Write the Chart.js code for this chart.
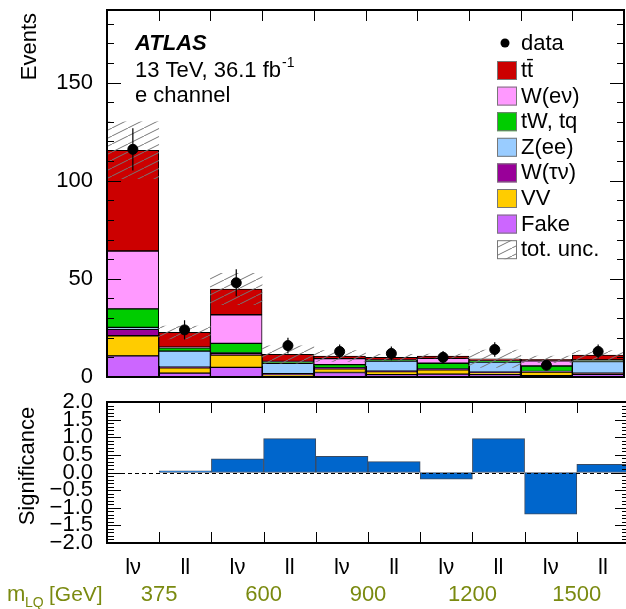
<!DOCTYPE html>
<html>
<head>
<meta charset="utf-8">
<script src="https://cdn.jsdelivr.net/npm/chart.js@4"></script>
<style>
body { margin: 0; background: #fff; overflow: hidden; }
#wrap { position: relative; width: 626px; height: 609px; overflow: hidden; }
#topChart { position: absolute; left: 0; top: 0; }
#botChart { position: absolute; left: 0; top: 390px; }
</style>
</head>
<body>
<div id="wrap">
  <canvas id="topChart" width="630" height="390"></canvas>
  <canvas id="botChart" width="630" height="219"></canvas>
</div>
<script>
// bins: lepton channel per LQ mass point
const bins = ['lν', 'll', 'lν', 'll', 'lν', 'll', 'lν', 'll', 'lν', 'll'];
const masses = ['375', '600', '900', '1200', '1500'];

// stacked backgrounds, bottom to top
const fake   = [10.8, 2.0, 4.9, 0.5, 2.3, 1.2, 1.5, 1.2, 0.7, 1.4];
const vv     = [10.2, 2.7, 6.3, 0.6, 1.8, 1.5, 2.1, 1.0, 1.8, 0.3];
const wtau   = [3.3, 0.3, 0.8, 0.6, 0.4, 0.3, 0.3, 0.3, 0.2, 0.2];
const zee    = [1.0, 8.2, 0.3, 5.3, 0.2, 5.1, 0.2, 5.1, 0.1, 6.0];
const single = [9.4, 1.7, 4.8, 0.8, 1.6, 0.4, 2.9, 0.4, 2.8, 0.5];
const wenu   = [29.5, 0.3, 14.6, 0.2, 3.1, 0.2, 2.5, 0.2, 2.7, 0.3];
const ttbar  = [51.3, 7.5, 13.1, 3.5, 1.3, 1.3, 1.2, 1.1, 0.7, 2.5];

const dataCounts = [116, 24, 48, 16, 13, 12, 10, 14, 6, 13];
const dataErr    = [10.8, 4.9, 6.9, 4.0, 3.6, 3.5, 3.2, 3.7, 2.4, 3.6];
const totUnc     = [14.5, 3.3, 8.0, 4.4, 2.7, 1.5, 1.0, 4.4, 1.7, 2.2];

const significance = [0.0, 0.05, 0.39, 0.96, 0.46, 0.31, -0.19, 0.96, -1.18, 0.23];

const FONT = 'Liberation Sans, Arial, sans-serif';

function hatchPattern(ctx) {
    const c = document.createElement('canvas');
    c.width = 16; c.height = 8;
    const g = c.getContext('2d');
    g.strokeStyle = '#777';
    g.lineWidth = 1;
    g.beginPath();
    g.moveTo(-1, 8.5); g.lineTo(17, -0.5);
    g.stroke();
    return ctx.createPattern(c, 'repeat');
}

// keep chart area fixed: no room reserved for overhanging tick labels
function noPad(s) {
    s.paddingTop = 0; s.paddingBottom = 0;
    s.paddingLeft = 0; s.paddingRight = 0;
}

const topCtx = document.getElementById('topChart').getContext('2d');
const hatch = hatchPattern(topCtx);

const totals = bins.map((b, i) => fake[i] + vv[i] + wtau[i] + zee[i] + single[i] + wenu[i] + ttbar[i]);
const uncBand = totals.map((t, i) => [t - totUnc[i], t + totUnc[i]]);

const stack = [
    { label: 'Fake', data: fake, color: '#cc66ff' },
    { label: 'VV', data: vv, color: '#ffcc00' },
    { label: 'W(τν)', data: wtau, color: '#990099' },
    { label: 'Z(ee)', data: zee, color: '#99ccff' },
    { label: 'tW, tq', data: single, color: '#00cc00' },
    { label: 'W(eν)', data: wenu, color: '#ff99ff' },
    { label: 'tt\u0304', data: ttbar, color: '#cc0000' }
];

// frame with inward ticks, like ROOT
const framePlugin = {
    id: 'frame',
    afterDraw(chart, args, opts) {
        const ctx = chart.ctx;
        const a = chart.chartArea;
        const xs = chart.scales.x, ys = chart.scales.y;
        ctx.save();
        ctx.strokeStyle = '#000';
        ctx.lineWidth = 1;
        ctx.beginPath();
        for (let i = 0; i < bins.length - 1; i++) {
            const x = Math.round((xs.getPixelForValue(i) + xs.getPixelForValue(i + 1)) / 2) + 0.5;
            ctx.moveTo(x, a.top); ctx.lineTo(x, a.top + 11);
            ctx.moveTo(x, a.bottom); ctx.lineTo(x, a.bottom - 11);
        }
        const n = Math.round((opts.max - opts.min) / opts.minor);
        for (let k = 0; k <= n; k++) {
            const v = opts.min + k * opts.minor;
            const y = Math.round(ys.getPixelForValue(v)) + 0.5;
            const major = Math.abs(v / opts.major - Math.round(v / opts.major)) < 1e-6;
            const len = major ? 14 : 7;
            ctx.moveTo(a.left, y); ctx.lineTo(a.left + len, y);
            ctx.moveTo(a.right, y); ctx.lineTo(a.right - len, y);
        }
        ctx.stroke();
        ctx.lineWidth = 2;
        ctx.strokeRect(a.left, a.top, a.right - a.left, a.bottom - a.top);
        ctx.restore();
    }
};

const errPlugin = {
    id: 'errbars',
    afterDatasetsDraw(chart) {
        const meta = chart.getDatasetMeta(chart.data.datasets.length - 1);
        const ys = chart.scales.yu;
        const ctx = chart.ctx;
        ctx.save();
        ctx.strokeStyle = '#000';
        ctx.lineWidth = 1.2;
        ctx.beginPath();
        meta.data.forEach((pt, i) => {
            ctx.moveTo(pt.x, ys.getPixelForValue(dataCounts[i] - dataErr[i]));
            ctx.lineTo(pt.x, ys.getPixelForValue(dataCounts[i] + dataErr[i]));
        });
        ctx.stroke();
        ctx.restore();
    }
};

const textPlugin = {
    id: 'toptext',
    afterDraw(chart) {
        const ctx = chart.ctx;
        ctx.save();
        ctx.fillStyle = '#000';
        ctx.textBaseline = 'alphabetic';
        ctx.font = 'bold italic 22px ' + FONT;
        ctx.fillText('ATLAS', 135, 50);
        ctx.font = '22px ' + FONT;
        ctx.fillText('13 TeV, 36.1 fb', 135, 77);
        const w = ctx.measureText('13 TeV, 36.1 fb').width;
        ctx.font = '14px ' + FONT;
        ctx.fillText('-1', 135 + w + 1, 67);
        ctx.font = '22px ' + FONT;
        ctx.fillText('e channel', 135, 102);

        // axis title
        ctx.save();
        ctx.translate(36, 13);
        ctx.rotate(-Math.PI / 2);
        ctx.textAlign = 'right';
        ctx.fillText('Events', 0, 0);
        ctx.restore();

        // legend
        const lx = 497, tx = 521;
        ctx.beginPath();
        ctx.arc(505, 43, 4.5, 0, Math.PI * 2);
        ctx.fill();
        ctx.fillText('data', tx, 50);
        const entries = stack.slice().reverse();
        entries.forEach((e, i) => {
            const base = 77 + i * 25.6;
            ctx.fillStyle = e.color;
            ctx.fillRect(lx, base - 16, 20, 19);
            ctx.strokeStyle = '#777';
            ctx.lineWidth = 1;
            ctx.strokeRect(lx + 0.5, base - 15.5, 19, 18);
            ctx.fillStyle = '#000';
            ctx.fillText(e.label, tx, base);
        });
        const base = 77 + entries.length * 25.6;
        ctx.fillStyle = hatch;
        ctx.fillRect(lx, base - 16, 20, 19);
        ctx.strokeStyle = '#777';
        ctx.strokeRect(lx + 0.5, base - 15.5, 19, 18);
        ctx.fillStyle = '#000';
        ctx.fillText('tot. unc.', tx, base);
        ctx.restore();
    }
};

const datasets = stack.map(s => ({
    type: 'bar',
    label: s.label,
    data: s.data,
    backgroundColor: s.color,
    borderColor: '#000',
    borderWidth: 1,
    borderSkipped: false,
    yAxisID: 'y',
    order: 0
}));
datasets.push({
    type: 'bar',
    label: 'tot. unc.',
    data: uncBand,
    backgroundColor: hatch,
    borderWidth: 0,
    grouped: false,
    yAxisID: 'yu',
    order: -1
});
datasets.push({
    type: 'line',
    label: 'data',
    data: dataCounts,
    showLine: false,
    pointRadius: 5,
    pointBackgroundColor: '#000',
    pointBorderColor: '#000',
    yAxisID: 'yu',
    order: -2
});

new Chart(topCtx, {
    data: { labels: bins, datasets: datasets },
    options: {
        responsive: false,
        animation: false,
        events: [],
        layout: { padding: { top: 10, right: 1, bottom: 13, left: 0 } },
        datasets: { bar: { categoryPercentage: 1, barPercentage: 1 } },
        plugins: {
            legend: { display: false },
            tooltip: { enabled: false },
            frame: { min: 0, max: 180, major: 50, minor: 10 }
        },
        scales: {
            x: { type: 'category', stacked: true, display: false, offset: true },
            y: {
                stacked: true, min: 0, max: 187,
                grid: { display: false }, border: { display: false },
                afterFit: s => { s.width = 107; noPad(s); },
                ticks: { stepSize: 50, includeBounds: false, padding: 6, color: '#000', font: { size: 22, family: FONT } }
            },
            yu: { display: false, min: 0, max: 187 }
        }
    },
    plugins: [framePlugin, errPlugin, textPlugin]
});

const botText = {
    id: 'bottext',
    afterDraw(chart) {
        const ctx = chart.ctx;
        const xs = chart.scales.x, ys = chart.scales.y;
        const a = chart.chartArea;
        ctx.save();
        // zero line
        ctx.strokeStyle = '#000';
        ctx.lineWidth = 1;
        ctx.setLineDash([4, 3]);
        const y0 = Math.round(ys.getPixelForValue(0)) + 0.5;
        ctx.beginPath();
        ctx.moveTo(a.left, y0); ctx.lineTo(a.right, y0);
        ctx.stroke();
        ctx.setLineDash([]);

        ctx.fillStyle = '#000';
        ctx.font = '22px ' + FONT;
        ctx.save();
        ctx.translate(34, 76);
        ctx.rotate(-Math.PI / 2);
        ctx.textAlign = 'center';
        ctx.fillText('Significance', 0, 0);
        ctx.restore();

        ctx.fillStyle = '#7a8a10';
        ctx.textAlign = 'center';
        ctx.textBaseline = 'alphabetic';
        masses.forEach((m, k) => {
            const x = (xs.getPixelForValue(2 * k) + xs.getPixelForValue(2 * k + 1)) / 2;
            ctx.fillText(m, x, 211);
        });
        ctx.textAlign = 'left';
        ctx.fillText('m', 7, 211);
        ctx.font = '14px ' + FONT;
        ctx.fillText('LQ', 25, 217);
        ctx.font = '21px ' + FONT;
        ctx.fillText('[GeV]', 49, 211);
        ctx.restore();
    }
};

new Chart(document.getElementById('botChart').getContext('2d'), {
    type: 'bar',
    data: {
        labels: bins,
        datasets: [{
            label: 'Significance',
            data: significance,
            backgroundColor: '#0066cc',
            borderColor: '#3a4a60',
            borderWidth: 1,
            borderSkipped: false,
            categoryPercentage: 1,
            barPercentage: 1
        }]
    },
    options: {
        responsive: false,
        animation: false,
        events: [],
        layout: { padding: { top: 12, right: 1, bottom: 0, left: 0 } },
        plugins: {
            legend: { display: false },
            tooltip: { enabled: false },
            frame: { min: -2, max: 2, major: 0.5, minor: 0.1 }
        },
        scales: {
            x: {
                type: 'category', offset: true,
                grid: { display: false }, border: { display: false },
                afterFit: s => { s.height = 66; noPad(s); },
                ticks: { padding: 4, color: '#000', maxRotation: 0, autoSkip: false, font: { size: 22, family: FONT } }
            },
            y: {
                min: -2, max: 2,
                grid: { display: false }, border: { display: false },
                afterFit: s => { s.width = 107; noPad(s); },
                ticks: {
                    stepSize: 0.5, padding: 6, color: '#000', autoSkip: false,
                    font: { size: 22, family: FONT },
                    callback: v => (v < 0 ? '\u2212' : '') + Math.abs(v).toFixed(1)
                }
            }
        }
    },
    plugins: [framePlugin, botText]
});
</script>
</body>
</html>
